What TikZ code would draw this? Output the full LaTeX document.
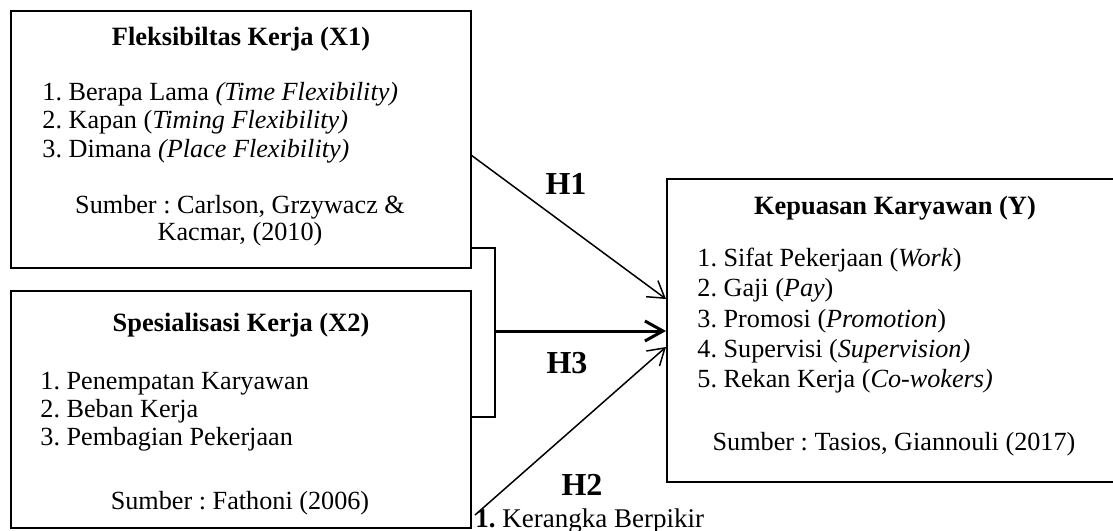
\documentclass[tikz,border=0pt]{standalone}
\usepackage{fontspec}
\setmainfont{Liberation Serif}
\usetikzlibrary{arrows.meta}
\frenchspacing
\begin{document}
\begin{tikzpicture}[x=0.5pt,y=-0.5pt,
  box/.style={draw, line width=1pt, inner sep=0pt, outer sep=0pt, anchor=north west},
  body/.style={font=\fontsize{13.1}{15}\selectfont, inner sep=0pt, anchor=base west},
  bodyc/.style={font=\fontsize{13.1}{15}\selectfont, inner sep=0pt, anchor=base},
  ttl/.style={font=\fontsize{13.2}{15}\selectfont\bfseries, inner sep=0pt, anchor=base},
  hyp/.style={font=\fontsize{16}{18}\selectfont\bfseries, inner sep=0pt},
  conn/.style={line width=0.75pt, -{Straight Barb[length=8pt,width=10pt]}},
  connthick/.style={line width=1.5pt, -{Straight Barb[length=9pt,width=10pt]}},
  brk/.style={line width=1pt}
]
\useasboundingbox (0,0) rectangle (1113,530);

% boxes
\node[box, minimum width=230pt, minimum height=128.5pt] (x1) at (11,11) {};
\node[box, minimum width=230pt, minimum height=118.5pt] (x2) at (11,291) {};
\node[box, minimum width=228pt, minimum height=151.5pt] (yb) at (667,179) {};

% X1 text
\node[ttl] (x1t) at (241,45) {Fleksibiltas Kerja (X1)};
\node[body] (x1a) at (42,100) {1. Berapa Lama \textit{(Time Flexibility)}};
\node[body] (x1b) at (42,128.5) {2. Kapan (\textit{Timing Flexibility)}};
\node[body] (x1c) at (42,157) {3. Dimana \textit{(Place Flexibility)}};
\node[bodyc] (x1s) at (240,213) {Sumber : Carlson, Grzywacz \&};
\node[bodyc] (x1k) at (240,240) {Kacmar, (2010)};

% X2 text
\node[ttl] (x2t) at (241,331) {Spesialisasi Kerja (X2)};
\node[body] (x2a) at (40,389) {1. Penempatan Karyawan};
\node[body] (x2b) at (40,417) {2. Beban Kerja};
\node[body] (x2c) at (40,445) {3. Pembagian Pekerjaan};
\node[bodyc] (x2s) at (240,509) {Sumber : Fathoni (2006)};

% Y text
\node[ttl] (yt) at (895,214) {Kepuasan Karyawan (Y)};
\node[body] (ya) at (697,266) {1. Sifat Pekerjaan (\textit{Work})};
\node[body] (yb2) at (697,296) {2. Gaji (\textit{Pay})};
\node[body] (yc) at (697,327) {3. Promosi (\textit{Promotion})};
\node[body] (yd) at (697,357) {4. Supervisi (\textit{Supervision)}};
\node[body] (ye) at (697,387) {5. Rekan Kerja (\textit{Co-wokers)}};
\node[bodyc] (ys) at (894,450) {Sumber : Tasios, Giannouli (2017)};

% connector points
\coordinate (h1s) at (471,155);
\coordinate (h1e) at (666,299);
\coordinate (bt) at (472,248);
\coordinate (bm) at (495,331);
\coordinate (bb) at (472,417);
\coordinate (h3e) at (666,331);
\coordinate (h2s) at (475,515);
\coordinate (h2e) at (666,347);

% bracket
\draw[brk] (bt) -| (bm) |- (bb);
% arrows
\draw[conn] (h1s) -- (h1e);
\draw[connthick] (bm) -- (h3e);
\draw[conn] (h2s) -- (h2e);

% labels
\node[hyp] (lh1) at (566,184) {H1};
\node[hyp] (lh3) at (567,363) {H3};
\node[hyp] (lh2) at (582,485) {H2};

% caption
\node[font=\fontsize{13.5}{15}\selectfont, inner sep=0pt, anchor=base west] (cap) at (475,527) {\textbf{1.} Kerangka Berpikir};
\end{tikzpicture}
\end{document}
